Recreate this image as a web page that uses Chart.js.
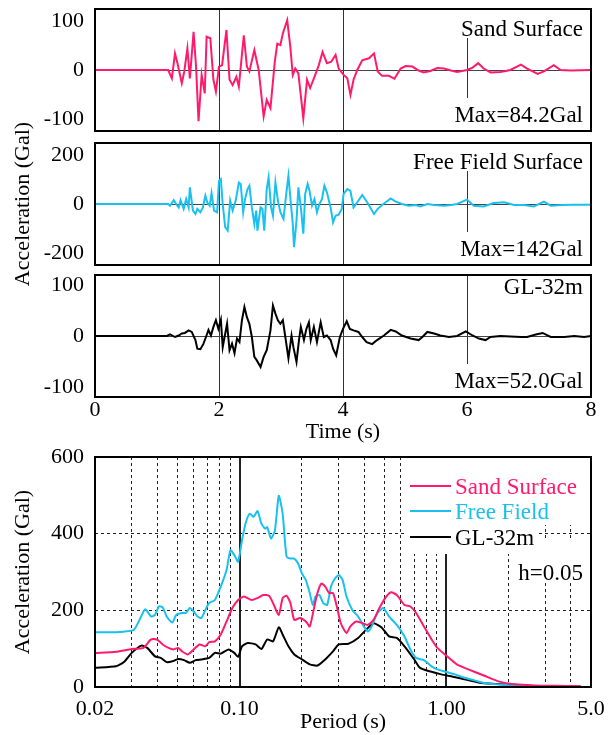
<!DOCTYPE html>
<html>
<head>
<meta charset="utf-8">
<script src="https://cdn.jsdelivr.net/npm/chart.js@4/dist/chart.umd.min.js"></script>
<style>
  html, body { margin: 0; padding: 0; background: #fff; }
  #wrap { position: relative; width: 608px; height: 735px; }
  #wrap canvas { position: absolute; left: 0; top: 0; }
</style>
</head>
<body>
<div id="wrap">
  <canvas id="sandChart" width="608" height="735"></canvas>
  <canvas id="freeChart" width="608" height="735"></canvas>
  <canvas id="glChart" width="608" height="735"></canvas>
  <canvas id="spectrumChart" width="608" height="735"></canvas>
</div>
<script>
const PINK = "#ff1a6c";
const CYAN = "#19c0f0";
const BLACK = "#000000";

// time histories (s, Gal)
const sandTime = [0, 1.18, 1.24, 1.29, 1.33, 1.40, 1.44, 1.49, 1.53, 1.59, 1.63, 1.67, 1.72, 1.77, 1.80, 1.86, 1.91, 1.95, 2.00, 2.05, 2.12, 2.17, 2.22, 2.28, 2.32, 2.40, 2.45, 2.49, 2.57, 2.64, 2.72, 2.77, 2.83, 2.90, 2.94, 2.99, 3.03, 3.10, 3.15, 3.19, 3.23, 3.28, 3.36, 3.42, 3.47, 3.54, 3.61, 3.67, 3.74, 3.81, 3.88, 3.93, 4.01, 4.07, 4.12, 4.17, 4.23, 4.31, 4.42, 4.50, 4.56, 4.63, 4.74, 4.83, 4.93, 5.01, 5.12, 5.22, 5.30, 5.41, 5.52, 5.63, 5.74, 5.84, 6.00, 6.09, 6.18, 6.27, 6.38, 6.54, 6.70, 6.87, 6.97, 7.14, 7.24, 7.40, 7.51, 7.67, 8.00];
const sandAcc = [0, 0, -17, 34, 14, -27, -3, 44, -17, 78, 7, -105, -10, -48, 68, 65, -20, -44, 7, 10, 82, -20, -31, -14, -34, 71, 7, -3, 41, 0, -95, -61, -78, 17, 54, 51, 75, 102, 48, -10, 3, -7, -99, -20, -37, -14, 10, 37, 14, 17, 31, 3, -10, -17, -51, -20, 0, 20, 24, 34, -3, -12, -12, -18, 3, 8, 7, -1, -5, -2, 4, 3, -1, -4, 0, 5, 14, 3, -5, -4, 0, 11, 3, -8, -3, 10, 0, -1, 0];

const freeTime = [0, 1.18, 1.21, 1.27, 1.31, 1.35, 1.38, 1.43, 1.47, 1.51, 1.53, 1.58, 1.62, 1.65, 1.70, 1.74, 1.78, 1.81, 1.85, 1.88, 1.92, 1.97, 2.00, 2.03, 2.06, 2.10, 2.14, 2.18, 2.22, 2.27, 2.32, 2.35, 2.39, 2.42, 2.46, 2.49, 2.53, 2.57, 2.60, 2.62, 2.67, 2.70, 2.73, 2.77, 2.80, 2.84, 2.87, 2.91, 2.95, 2.99, 3.04, 3.09, 3.12, 3.16, 3.19, 3.21, 3.25, 3.28, 3.32, 3.36, 3.39, 3.43, 3.46, 3.50, 3.54, 3.58, 3.62, 3.66, 3.70, 3.74, 3.80, 3.84, 3.88, 3.93, 3.98, 4.01, 4.07, 4.12, 4.17, 4.23, 4.31, 4.39, 4.50, 4.56, 4.63, 4.77, 4.85, 4.95, 5.06, 5.17, 5.25, 5.36, 5.47, 5.63, 5.74, 5.84, 6.00, 6.11, 6.27, 6.43, 6.60, 6.76, 6.92, 7.08, 7.24, 7.35, 7.53, 7.70, 8.00];
const freeAcc = [0, 0, -7, 16, 0, -14, 16, -20, 20, -14, 68, -27, -41, -20, -34, -14, 34, 7, -7, 44, -27, -34, 95, 102, 0, -95, -109, 14, -27, 14, 88, 82, -34, 20, 61, 75, -14, -82, -27, -109, -14, -20, -109, 61, 109, -14, -48, 88, 14, -34, -61, 54, 116, 0, -82, -177, -68, 68, -14, -122, 41, 82, 54, -7, 20, -34, 0, 20, 75, 48, -14, -75, -48, -44, -20, 41, 61, 54, -14, 7, 37, 7, -41, -20, -4, 23, 10, 0, -7, -4, -10, 0, -4, -7, -4, 0, 18, -7, -10, 4, 7, -4, -4, -10, 10, -7, -4, -3, -3];

const glTime = [0, 1.16, 1.21, 1.29, 1.35, 1.40, 1.45, 1.51, 1.56, 1.62, 1.65, 1.70, 1.75, 1.79, 1.83, 1.87, 1.91, 1.95, 1.99, 2.03, 2.06, 2.09, 2.13, 2.17, 2.21, 2.25, 2.29, 2.33, 2.37, 2.41, 2.45, 2.49, 2.53, 2.57, 2.61, 2.67, 2.72, 2.77, 2.83, 2.87, 2.91, 2.95, 2.99, 3.03, 3.07, 3.12, 3.17, 3.20, 3.25, 3.29, 3.32, 3.37, 3.41, 3.45, 3.48, 3.53, 3.58, 3.64, 3.69, 3.74, 3.80, 3.84, 3.89, 3.95, 4.00, 4.06, 4.11, 4.17, 4.25, 4.31, 4.38, 4.47, 4.55, 4.66, 4.77, 4.85, 4.95, 5.09, 5.22, 5.28, 5.36, 5.47, 5.57, 5.71, 5.84, 5.98, 6.09, 6.19, 6.30, 6.38, 6.54, 6.70, 6.87, 6.97, 7.11, 7.22, 7.35, 7.57, 7.73, 7.89, 8.00];
const glAcc = [0, 0, 3, -2, 1, 5, 6, 11, 8, -8, -25, -26, -15, -2, 12, 1, 18, 31, 14, 32, -22, -2, 24, -28, -15, -34, -5, -12, 31, 57, 37, 24, -2, -41, -48, -61, -41, -28, 11, 60, 44, 31, 24, 31, -2, -44, 1, -22, -51, -8, 18, -8, 14, 27, -8, 18, -12, 27, -2, 1, -8, -25, -38, -2, 14, 29, 14, 11, 8, -2, -12, -16, -8, 1, 12, 9, 1, -5, -8, -2, 8, 5, 1, -2, 0, 9, 1, -5, -8, -2, 0, -1, -2, -2, 3, 6, -2, -2, 0, -2, 0];

const timeTicks = [0, 2, 4, 6, 8];
const sandTicks = [-100, 0, 100];
const freeTicks = [-200, 0, 200];
const glTicks = [-100, 0, 100];

// response spectra, h=0.05 (s, Gal)
const sandPeriod = [0.0200, 0.0253, 0.0301, 0.0343, 0.0373, 0.0398, 0.0425, 0.0453, 0.0479, 0.0505, 0.0527, 0.0562, 0.0600, 0.0640, 0.0683, 0.0713, 0.0760, 0.0811, 0.0865, 0.0923, 0.0984, 0.1050, 0.1145, 0.1221, 0.1303, 0.1389, 0.1451, 0.1547, 0.1615, 0.1687, 0.1761, 0.1838, 0.1961, 0.2091, 0.2184, 0.2280, 0.2380, 0.2485, 0.2594, 0.2709, 0.2829, 0.2953, 0.3083, 0.3288, 0.3433, 0.3662, 0.3907, 0.4166, 0.4445, 0.4742, 0.5058, 0.5395, 0.5756, 0.6271, 0.6693, 0.7139, 0.7781, 0.8480, 0.9044, 1.007, 1.122, 1.277, 1.517, 1.802, 2.142, 2.656, 3.294, 4.452];
const sandSa = [89, 92, 99, 102, 124, 124, 111, 102, 98, 102, 93, 85, 98, 111, 106, 117, 119, 137, 171, 206, 227, 236, 227, 232, 240, 238, 219, 188, 232, 238, 219, 175, 180, 171, 158, 201, 245, 270, 262, 245, 245, 210, 167, 141, 158, 171, 167, 162, 175, 206, 232, 247, 240, 214, 210, 193, 158, 124, 102, 80, 59, 46, 30, 14, 7, 4, 3, 2];

const freePeriod = [0.0200, 0.0253, 0.0308, 0.0328, 0.0350, 0.0373, 0.0390, 0.0407, 0.0425, 0.0444, 0.0473, 0.0494, 0.0527, 0.0550, 0.0575, 0.0600, 0.0626, 0.0654, 0.0683, 0.0713, 0.0760, 0.0811, 0.0865, 0.0903, 0.0943, 0.0984, 0.1027, 0.1073, 0.1120, 0.1169, 0.1221, 0.1275, 0.1331, 0.1360, 0.1420, 0.1482, 0.1547, 0.1615, 0.1687, 0.1761, 0.1838, 0.1919, 0.2003, 0.2091, 0.2184, 0.2260, 0.2330, 0.2432, 0.2538, 0.2651, 0.2768, 0.2890, 0.3018, 0.3150, 0.3288, 0.3508, 0.3742, 0.3991, 0.4166, 0.4350, 0.4641, 0.4950, 0.5280, 0.5756, 0.6271, 0.6693, 0.7139, 0.7781, 0.8480, 0.9044, 0.9858, 1.098, 1.223, 1.392, 1.584, 1.882, 2.334, 2.894, 3.590, 4.452];
const freeSa = [143, 143, 149, 175, 203, 184, 188, 210, 208, 184, 168, 188, 193, 193, 206, 197, 184, 180, 201, 219, 227, 262, 305, 357, 344, 327, 383, 430, 452, 444, 459, 426, 413, 417, 387, 409, 499, 452, 340, 335, 335, 322, 296, 279, 245, 214, 236, 240, 219, 214, 262, 283, 292, 279, 236, 201, 184, 158, 145, 158, 193, 206, 184, 162, 132, 98, 76, 70, 54, 46, 40, 33, 24, 16, 9, 6, 3, 2, 1, 1];

const glPeriod = [0.0200, 0.0253, 0.0276, 0.0301, 0.0335, 0.0358, 0.0390, 0.0416, 0.0444, 0.0473, 0.0505, 0.0539, 0.0575, 0.0613, 0.0654, 0.0713, 0.0760, 0.0811, 0.0884, 0.0943, 0.0984, 0.1027, 0.1096, 0.1195, 0.1275, 0.1360, 0.1451, 0.1547, 0.1615, 0.1723, 0.1838, 0.2003, 0.2184, 0.2380, 0.2594, 0.2829, 0.3018, 0.3360, 0.3742, 0.4078, 0.4445, 0.4845, 0.5280, 0.5756, 0.6271, 0.6987, 0.7453, 0.8299, 0.9442, 1.075, 1.223, 1.453, 1.726, 2.235, 2.894, 3.590, 4.452];
const glSa = [50, 54, 65, 89, 108, 102, 80, 76, 65, 67, 73, 70, 63, 70, 72, 76, 89, 87, 98, 89, 79, 106, 115, 111, 99, 124, 119, 156, 137, 106, 85, 72, 59, 56, 72, 93, 111, 113, 128, 149, 166, 156, 132, 128, 106, 72, 50, 41, 33, 27, 20, 11, 8, 4, 2, 1, 1];

const periodTicks = [0.02, 0.03, 0.04, 0.05, 0.06, 0.07, 0.08, 0.09, 0.1, 0.2, 0.3, 0.4, 0.5, 0.6, 0.7, 0.8, 0.9, 1, 2, 3, 4, 5];
const periodLabels = { 0.02: "0.02", 0.1: "0.10", 1: "1.00", 5: "5.0" };
const majorPeriods = [0.1, 1];
const spectrumTicks = [0, 200, 400, 600];

Chart.defaults.font.family = '"Liberation Serif", "Times New Roman", serif';
Chart.defaults.font.size = 22;
Chart.defaults.color = "#000";

const LABEL_FONT = '23px "Liberation Serif", "Times New Roman", serif';

function points(xs, ys) {
  return xs.map((x, i) => ({ x, y: ys[i] }));
}

function boxedText(ctx, text, x, baseline, align, boxTop, boxBottom) {
  ctx.font = LABEL_FONT;
  const w = ctx.measureText(text).width;
  const left = align === "right" ? x - w : x;
  ctx.fillStyle = "#fff";
  ctx.fillRect(left - 3, boxTop, w + 6, boxBottom - boxTop);
  ctx.fillStyle = "#000";
  ctx.textAlign = align;
  ctx.textBaseline = "alphabetic";
  ctx.fillText(text, x, baseline);
}

function framePlugin(drawExtras) {
  return {
    id: "frame",
    afterDraw(chart) {
      const { ctx, chartArea: a } = chart;
      ctx.save();
      if (drawExtras) drawExtras(ctx, a, chart);
      ctx.lineWidth = 2;
      ctx.strokeStyle = "#000";
      ctx.strokeRect(a.left, a.top, a.right - a.left, a.bottom - a.top);
      ctx.restore();
    }
  };
}

function timePanel(id, cfg) {
  const showX = !!cfg.showX;
  new Chart(document.getElementById(id), {
    type: "line",
    data: {
      datasets: [{
        data: points(cfg.time, cfg.acc),
        borderColor: cfg.color,
        borderWidth: 2,
        pointRadius: 0,
        tension: 0
      }]
    },
    options: {
      responsive: false,
      animation: false,
      layout: { padding: { left: 0, right: 17, top: cfg.top, bottom: cfg.bottomPad } },
      plugins: { legend: { display: false }, tooltip: { enabled: false } },
      scales: {
        x: {
          type: "linear",
          min: 0,
          max: 8,
          afterBuildTicks: (s) => { s.ticks = timeTicks.map((v) => ({ value: v })); },
          afterFit: (s) => { s.height = showX ? 48 : 0; s.paddingLeft = 0; s.paddingRight = 0; },
          ticks: { display: showX, padding: 0, maxRotation: 0, autoSkip: false },
          grid: {
            drawTicks: false,
            lineWidth: 1,
            color: (c) => (c.tick && c.tick.value > 0 && c.tick.value < 8) ? "#333" : "transparent"
          },
          border: { display: false },
          title: { display: showX, text: "Time (s)", padding: 0 }
        },
        y: {
          min: -cfg.yMax,
          max: cfg.yMax,
          afterBuildTicks: (s) => { s.ticks = cfg.yTicks.map((v) => ({ value: v })); },
          afterFit: (s) => { s.width = 95; s.paddingTop = 0; s.paddingBottom = 0; },
          ticks: { padding: 11 },
          grid: {
            drawTicks: false,
            color: (c) => (c.tick && c.tick.value === 0) ? "#444" : "transparent"
          },
          border: { display: false },
          title: { display: !!cfg.yTitle, text: "Acceleration (Gal)", padding: { top: 10, bottom: 0 } }
        }
      }
    },
    plugins: [framePlugin((ctx, a) => {
      const x = a.right - 8;
      const b1 = a.top + cfg.nameOffset;
      const b2 = a.bottom - 9;
      boxedText(ctx, cfg.name, x, b1, "right", a.top + 1, b1 + 2);
      boxedText(ctx, cfg.maxText, x, b2, "right", b2 - 24, a.bottom - 1);
    })]
  });
}

timePanel("sandChart", {
  time: sandTime, acc: sandAcc, color: PINK, yTicks: sandTicks, yMax: 125,
  top: 9, bottomPad: 735 - 131, name: "Sand Surface", maxText: "Max=84.2Gal", nameOffset: 27
});
timePanel("freeChart", {
  time: freeTime, acc: freeAcc, color: CYAN, yTicks: freeTicks, yMax: 250, yTitle: true,
  top: 143, bottomPad: 735 - 265, name: "Free Field Surface", maxText: "Max=142Gal", nameOffset: 26
});
timePanel("glChart", {
  time: glTime, acc: glAcc, color: BLACK, yTicks: glTicks, yMax: 120, showX: true,
  top: 275, bottomPad: 735 - 397 - 48, name: "GL-32m", maxText: "Max=52.0Gal", nameOffset: 19
});

const legendRows = [486, 511, 537];

new Chart(document.getElementById("spectrumChart"), {
  type: "line",
  data: {
    datasets: [
      { label: "Sand Surface", data: points(sandPeriod, sandSa), borderColor: PINK },
      { label: "Free Field", data: points(freePeriod, freeSa), borderColor: CYAN },
      { label: "GL-32m", data: points(glPeriod, glSa), borderColor: BLACK }
    ].map((d) => ({ ...d, borderWidth: 2, pointRadius: 0, tension: 0.2 }))
  },
  options: {
    responsive: false,
    animation: false,
    layout: { padding: { left: 0, right: 17, top: 457, bottom: 0 } },
    plugins: { legend: { display: false }, tooltip: { enabled: false } },
    scales: {
      x: {
        type: "logarithmic",
        min: 0.02,
        max: 5,
        afterBuildTicks: (s) => { s.ticks = periodTicks.map((v) => ({ value: v })); },
        afterFit: (s) => { s.height = 48; s.paddingLeft = 0; s.paddingRight = 0; },
        ticks: {
          padding: 9,
          maxRotation: 0,
          autoSkip: false,
          callback: (v) => periodLabels[v] || ""
        },
        grid: {
          drawTicks: false,
          color: (c) => (c.tick && c.tick.value > 0.02 && c.tick.value < 5) ? "#222" : "transparent",
          lineWidth: (c) => (c.tick && majorPeriods.includes(c.tick.value)) ? 2 : 1
        },
        border: {
          display: false,
          dash: (c) => (c.tick && !majorPeriods.includes(c.tick.value)) ? [3, 3] : []
        },
        title: { display: true, text: "Period (s)", padding: 0 }
      },
      y: {
        min: 0,
        max: 600,
        afterBuildTicks: (s) => { s.ticks = spectrumTicks.map((v) => ({ value: v })); },
        afterFit: (s) => { s.width = 95; s.paddingTop = 0; s.paddingBottom = 0; },
        ticks: { padding: 11 },
        grid: {
          drawTicks: false,
          color: (c) => (c.tick && c.tick.value > 0 && c.tick.value < 600) ? "#222" : "transparent"
        },
        border: { display: false, dash: [3, 3] },
        title: { display: true, text: "Acceleration (Gal)", padding: { top: 10, bottom: 0 } }
      }
    }
  },
  plugins: [framePlugin((ctx, a, chart) => {
    // white patches behind legend and damping note
    ctx.fillStyle = "#fff";
    ctx.fillRect(406, a.top + 1, a.right - 407, legendRows[1] + 13 - a.top);
    ctx.fillRect(406, legendRows[1] + 13, 132, legendRows[2] + 17 - legendRows[1] - 13);
    ctx.fillRect(514, legendRows[2] + 1, a.right - 515, 582 - legendRows[2] - 1);
    chart.data.datasets.forEach((d, i) => {
      const y = legendRows[i];
      ctx.strokeStyle = d.borderColor;
      ctx.lineWidth = 2;
      ctx.beginPath();
      ctx.moveTo(410, y);
      ctx.lineTo(451, y);
      ctx.stroke();
      ctx.font = LABEL_FONT;
      ctx.fillStyle = d.borderColor;
      ctx.textAlign = "left";
      ctx.textBaseline = "alphabetic";
      ctx.fillText(d.label, 455, y + 8);
    });
    ctx.font = LABEL_FONT;
    ctx.fillStyle = "#000";
    ctx.textAlign = "right";
    ctx.fillText("h=0.05", a.right - 8, 580);
  })]
});
</script>
</body>
</html>
